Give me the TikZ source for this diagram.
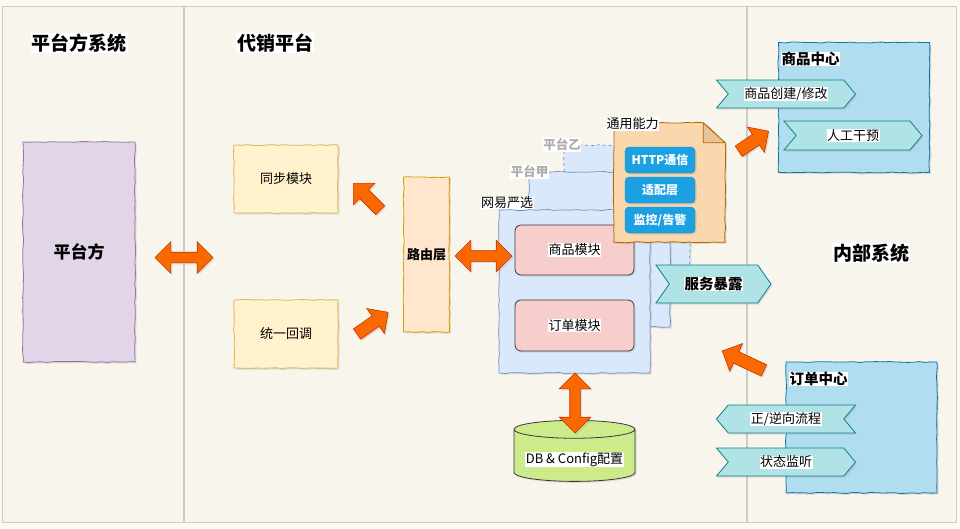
\documentclass[tikz,border=0pt]{standalone}
\usepackage{fontspec}
\setmainfont{Noto Sans CJK SC}
\usetikzlibrary{shapes.arrows, shapes.symbols, shapes.geometric, shadows, calc, positioning, decorations.pathmorphing}

\definecolor{pagebg}{HTML}{FBFAF5}
\definecolor{panelbg}{HTML}{F8F5EC}
\definecolor{panelline}{HTML}{CFCCC4}
\definecolor{purplefill}{HTML}{E1D5E7}
\definecolor{purpleline}{HTML}{9673A6}
\definecolor{yellowfill}{HTML}{FFF2CC}
\definecolor{yellowline}{HTML}{D6B656}
\definecolor{peachfill}{HTML}{FFE6CC}
\definecolor{peachline}{HTML}{D79B00}
\definecolor{stackfill}{HTML}{DAE8FC}
\definecolor{stackline}{HTML}{6C8EBF}
\definecolor{pinkfill}{HTML}{F8CECC}
\definecolor{darkline}{HTML}{36393D}
\definecolor{docfill}{HTML}{FAD7AC}
\definecolor{docline}{HTML}{B46504}
\definecolor{foldfill}{HTML}{E9C393}
\definecolor{btnfill}{HTML}{1BA1E2}
\definecolor{btnline}{HTML}{1A8BC4}
\definecolor{tealfill}{HTML}{B0E3E6}
\definecolor{tealline}{HTML}{0E8088}
\definecolor{skyfill}{HTML}{B1DDF0}
\definecolor{skyline}{HTML}{10739E}
\definecolor{dbfill}{HTML}{CDEB8B}
\definecolor{arrowfill}{HTML}{FA6800}
\definecolor{arrowline}{HTML}{C73500}

\newcommand{\fsz}[1]{\fontsize{#1}{#1}\selectfont}
\newcommand{\onwhite}[1]{{\setlength{\fboxsep}{0.5pt}\colorbox{white}{#1}}}

\begin{document}
\begin{tikzpicture}[x=1pt, y=-1pt,
    softshadow/.style={drop shadow={opacity=0.22, shadow xshift=1.5pt, shadow yshift=-1.5pt}},
    sketch/.style={decorate, decoration={random steps, segment length=6pt, amplitude=0.5pt}},
    panel/.style={draw=panelline, fill=panelbg, line width=0.8pt},
    title/.style={fill=white, inner sep=1pt, font=\fsz{19}\bfseries},
    lbl/.style={fill=white, inner sep=0.5pt, font=\fsz{13}},
    faded/.style={lbl, text=gray!65, font=\fsz{12.5}\bfseries},
    ownerbox/.style={sketch, softshadow, draw=purpleline, fill=purplefill, line width=0.8pt, minimum width=112pt, minimum height=220pt, font=\fsz{17}\bfseries},
    yellowbox/.style={sketch, softshadow, draw=yellowline, fill=yellowfill, line width=0.8pt, minimum width=104pt, minimum height=68pt, font=\fsz{13}},
    routebox/.style={sketch, softshadow, draw=peachline, fill=peachfill, line width=0.8pt, minimum width=45pt, minimum height=155pt, font=\fsz{13}\bfseries},
    stackbox/.style={sketch, softshadow, draw=stackline, fill=stackfill, line width=0.7pt, minimum height=155pt},
    modbox/.style={softshadow, draw=darkline, fill=pinkfill, line width=0.8pt, rounded corners=6pt, minimum width=119pt, minimum height=50pt, font=\fsz{13}},
    btn/.style={softshadow, draw=btnline, fill=btnfill, rounded corners=4pt, text=white, minimum width=70pt, minimum height=26pt, font=\fsz{12}\bfseries},
    centerbox/.style={sketch, softshadow, draw=skyline, fill=skyfill, line width=0.8pt, minimum width=151pt, minimum height=130pt},
    ribbon/.style={signal, signal from=west, signal to=east, signal pointer angle=100, softshadow, draw=tealline, fill=tealfill, line width=0.8pt, minimum width=139pt, minimum height=28pt, inner sep=0pt, font=\fsz{13}},
    ribbonleft/.style={ribbon, signal from=east, signal to=west},
    dbstore/.style={cylinder, shape border rotate=90, aspect=0.17, softshadow, draw=darkline, fill=dbfill, line width=0.8pt, minimum width=121pt, minimum height=61pt, font=\fsz{13}},
    dblarrow/.style={double arrow, double arrow head extend=10.5pt, inner xsep=0pt, inner ysep=5pt, softshadow, draw=arrowline, fill=arrowfill, line width=0.6pt},
    sglarrow/.style={single arrow, single arrow head extend=9pt, inner xsep=0pt, inner ysep=6pt, minimum height=38pt, softshadow, draw=arrowline, fill=arrowfill, line width=0.6pt}]

    \useasboundingbox (0,0) rectangle (960,528);
    \fill[pagebg] (0,0) rectangle (960,528);

    % three panels
    \draw[panel] (2,6) rectangle (183,522);
    \draw[panel] (184,6) rectangle (746,522);
    \draw[panel] (747,6) rectangle (956,522);

    \node[title] (titleowner) at (79,43) {平台方系统};
    \node[title] (titleagent) at (275,43) {代销平台};
    \node[title] (titleinner) at (871,253) {内部系统};

    % platform side
    \node[ownerbox] (owner) at (79,252) {平台方};

    % agent platform
    \node[yellowbox] (sync) at (286,179) {同步模块};
    \node[yellowbox] (callback) at (286,334) {统一回调};
    \node[routebox] (router) at (426.5,254.5) {路由层};

    \node[stackbox, dashed, minimum width=126pt] (platb) at (627,222.5) {};
    \node[stackbox, minimum width=141pt] (plata) at (599.5,249.5) {};
    \node[stackbox, minimum width=151pt, minimum height=163pt] (yanxuan) at (574.5,291.5) {};
    \node[modbox] (goodsmod) at (574.5,250) {\onwhite{商品模块}};
    \node[modbox, minimum height=51pt] (ordermod) at (574.5,325.5) {\onwhite{订单模块}};

    \node[faded] (platblabel) at (562,145) {平台乙};
    \node[faded] (platalabel) at (529.5,172) {平台甲};
    \node[lbl] (yanxuanlabel) at (507,203) {网易严选};

    % common abilities
    \node[minimum width=111pt, minimum height=119pt, inner sep=0pt] (ability) at (669.5,182.5) {};
    \draw[sketch, softshadow, draw=docline, fill=docfill, line width=0.8pt]
        (ability.north west) -- ($(ability.north east)+(-22,0)$) -- ($(ability.north east)+(0,20)$)
        -- (ability.south east) -- (ability.south west) -- cycle;
    \draw[draw=docline, fill=foldfill, line width=0.8pt]
        ($(ability.north east)+(-22,0)$) -- ($(ability.north east)+(-22,20)$) -- ($(ability.north east)+(0,20)$) -- cycle;
    \node[lbl] (abilitylabel) at (632.5,124) {通用能力};
    \node[btn] (http) at (660,160) {HTTP通信};
    \node[btn] (adapter) at (660,190) {适配层};
    \node[btn] (monitor) at (660,220) {监控/告警};

    \node[ribbon, signal pointer angle=110, minimum width=115pt, minimum height=38pt, font=\fsz{14.5}\bfseries] (expose) at (713.5,284) {\onwhite{服务暴露}};

    \node[dbstore] (db) at (574.5,457) {\raisebox{-6pt}[0pt][0pt]{\onwhite{DB \& Config配置}}};

    % inner systems
    \node[centerbox] (goodscenter) at (854,107.5) {};
    \node[lbl, anchor=west, font=\fsz{14.5}\bfseries] (goodscenterlabel) at (781,59) {商品中心};
    \node[ribbon] (create) at (786,94) {\onwhite{商品创建/修改}};
    \node[ribbon, minimum width=138pt, minimum height=29pt] (manual) at (853,135.5) {\onwhite{人工干预}};

    \node[centerbox, minimum height=131pt] (ordercenter) at (861.5,427.5) {};
    \node[lbl, anchor=west, font=\fsz{14.5}\bfseries] (ordercenterlabel) at (789,379) {订单中心};
    \node[ribbonleft] (flow) at (786,419) {\onwhite{正/逆向流程}};
    \node[ribbon] (listen) at (786,462) {\onwhite{状态监听}};

    % block arrows
    \node[dblarrow, minimum height=58pt] (ownerlink) at (184,257.5) {};
    \node[dblarrow, minimum height=57pt] (routerlink) at (483.5,256) {};
    \node[dblarrow, minimum height=60pt, rotate=90] (dblink) at (575,403) {};
    \node[sglarrow, rotate=135] (tosync) at (369,199) {};
    \node[sglarrow, rotate=35] (torouter) at (370,325) {};
    \node[sglarrow, rotate=34, minimum height=36pt] (tocenter) at (751,143) {};
    \node[sglarrow, rotate=155, minimum height=46pt] (toexpose) at (746,362) {};
\end{tikzpicture}
\end{document}
